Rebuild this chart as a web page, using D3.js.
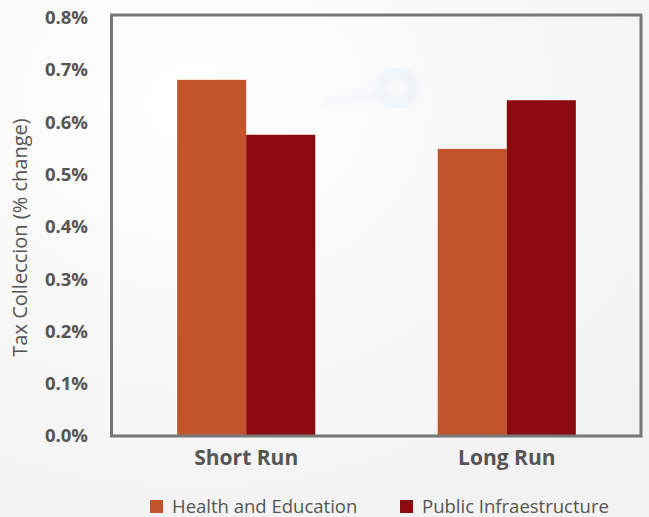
<!DOCTYPE html>
<html>
<head>
<meta charset="utf-8">
<script src="https://cdn.jsdelivr.net/npm/d3@7"></script>
<style>
  body { margin: 0; background: #fff; }
  svg { font-family: "Open Sans", sans-serif; }
</style>
</head>
<body>
<script>
const categories = ["Short Run", "Long Run"];
const seriesNames = ["Health and Education", "Public Infraestructure"];
const healthEdu = [0.681, 0.549];
const publicInfra = [0.576, 0.642];
const yTicks = [0, 0.1, 0.2, 0.3, 0.4, 0.5, 0.6, 0.7, 0.8];
const colors = ["#c1542a", "#8b0a10"];

const width = 649, height = 517;
const plotL = 112, plotR = 641, plotT = 15, plotB = 436;

const svg = d3.select("body").append("svg")
    .attr("width", width).attr("height", height);

// soft background
const defs = svg.append("defs");
const bg = defs.append("radialGradient").attr("id", "bg")
    .attr("cx", "30%").attr("cy", "20%").attr("r", "90%");
bg.append("stop").attr("offset", "0%").attr("stop-color", "#ffffff");
bg.append("stop").attr("offset", "100%").attr("stop-color", "#f2f2f2");
defs.append("filter").attr("id", "blur")
    .append("feGaussianBlur").attr("stdDeviation", 5);

svg.append("rect").attr("width", width).attr("height", height).attr("fill", "url(#bg)");

// faint watermark ring
const wm = svg.append("g").attr("filter", "url(#blur)").attr("opacity", 0.35);
wm.append("circle").attr("cx", 397).attr("cy", 88).attr("r", 16)
    .attr("fill", "none").attr("stroke", "#cfe4f7").attr("stroke-width", 9);
wm.append("line").attr("x1", 325).attr("y1", 104).attr("x2", 382).attr("y2", 93)
    .attr("stroke", "#dcebf8").attr("stroke-width", 7);

const y = d3.scaleLinear().domain([0, 0.8]).range([plotB, 17.6]);
const x0 = d3.scaleBand().domain(categories).range([plotL, plotR])
    .paddingInner(0.47).paddingOuter(0.25);
const x1 = d3.scaleBand().domain(seriesNames).range([0, x0.bandwidth()]);

// bars
const rows = categories.map((c, i) => ({ cat: c, vals: [healthEdu[i], publicInfra[i]] }));
const groups = svg.append("g").selectAll("g").data(rows).join("g")
    .attr("transform", d => `translate(${x0(d.cat)},0)`);
groups.selectAll("rect")
    .data(d => d.vals.map((v, j) => ({ name: seriesNames[j], v, j })))
    .join("rect")
    .attr("x", d => x1(d.name))
    .attr("y", d => y(d.v))
    .attr("width", x1.bandwidth())
    .attr("height", d => y(0) - y(d.v))
    .attr("fill", d => colors[d.j]);

// frame
svg.append("rect")
    .attr("x", plotL - 0.5).attr("y", plotT)
    .attr("width", plotR - plotL + 0.5).attr("height", plotB - plotT)
    .attr("fill", "none").attr("stroke", "#777").attr("stroke-width", 3);

// y axis
const yAxis = svg.append("g")
    .attr("transform", `translate(${plotL},0)`)
    .call(d3.axisLeft(y).tickValues(yTicks).tickSize(0).tickPadding(24)
        .tickFormat(d => d3.format(".1f")(d) + "%"));
yAxis.select(".domain").remove();
yAxis.selectAll("text")
    .attr("fill", "#555").style("font-size", "18.5px").style("font-weight", "bold")
    .style("font-family", "'Open Sans', sans-serif");

// x axis labels
const xAxis = svg.append("g")
    .attr("transform", `translate(0,${plotB})`)
    .call(d3.axisBottom(x0).tickSize(0).tickPadding(14));
xAxis.select(".domain").remove();
xAxis.selectAll("text")
    .attr("fill", "#555").style("font-size", "21px").style("font-weight", "bold")
    .style("font-family", "'Open Sans', sans-serif");

// y title
svg.append("text")
    .attr("transform", `translate(27,${(plotT + plotB) / 2 + 12}) rotate(-90)`)
    .attr("text-anchor", "middle")
    .attr("fill", "#555").style("font-size", "20px")
    .text("Tax Colleccion (% change)");

// legend
const legendX = [150, 400];
const lg = svg.append("g").selectAll("g").data(seriesNames).join("g")
    .attr("transform", (d, i) => `translate(${legendX[i]},500)`);
lg.append("rect").attr("width", 13).attr("height", 13)
    .attr("fill", (d, i) => colors[i]);
lg.append("text").attr("x", 22).attr("y", 13)
    .attr("fill", "#555").style("font-size", "18.5px")
    .text(d => d);
</script>
</body>
</html>
